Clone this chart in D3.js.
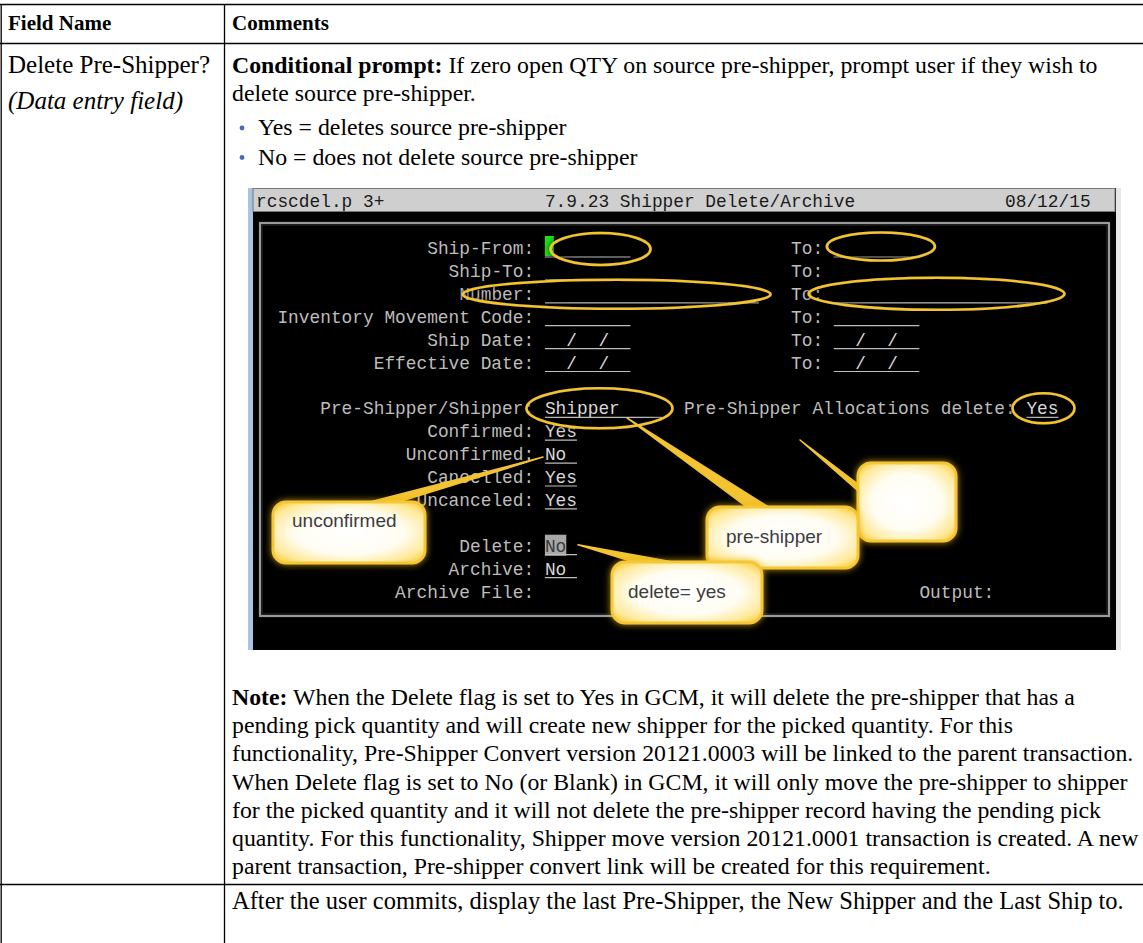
<!DOCTYPE html>
<html><head><meta charset="utf-8">
<script src="https://cdn.jsdelivr.net/npm/d3@7"></script>
<style>body{margin:0;background:#fff;} svg{display:block}</style>
</head><body><svg id="c" width="1143" height="943"></svg>
<script>
// ---------- document content ----------
const headers = ["Field Name", "Comments"];
const fieldName = "Delete Pre-Shipper?";
const fieldKind = "(Data entry field)";
const promptLabel = "Conditional prompt:";
const promptLines = [" If zero open QTY on source pre-shipper, prompt user if they wish to", "delete source pre-shipper."];
const bullets = ["Yes = deletes source pre-shipper", "No = does not delete source pre-shipper"];
const noteLabel = "Note:";
const noteLines = [
  " When the Delete flag is set to Yes in GCM, it will delete the pre-shipper that has a",
  "pending pick quantity and will create new shipper for the picked quantity. For this",
  "functionality, Pre-Shipper Convert version 20121.0003 will be linked to the parent transaction.",
  "When Delete flag is set to No (or Blank) in GCM, it will only move the pre-shipper to shipper",
  "for the picked quantity and it will not delete the pre-shipper record having the pending pick",
  "quantity. For this functionality, Shipper move version 20121.0001 transaction is created. A new",
  "parent transaction, Pre-shipper convert link will be created for this requirement."
];
const lastRowText = "After the user commits, display the last Pre-Shipper, the New Shipper and the Last Ship to.";

// ---------- terminal screen content ----------
const titleCells = [
  {col: 0, text: "rcscdel.p 3+"},
  {col: 27, text: "7.9.23 Shipper Delete/Archive"},
  {col: 70, text: "08/12/15"}
];
const termRows = [2, 3, 4, 5, 6, 7, 9, 10, 11, 12, 13, 15, 16, 17];
const termLabels = ["Ship-From:", "Ship-To:", "Number:", "Inventory Movement Code:", "Ship Date:", "Effective Date:",
  "Pre-Shipper/Shipper:", "Confirmed:", "Unconfirmed:", "Cancelled:", "Uncanceled:", "Delete:", "Archive:", "Archive File:"];
const termValues = ["", "", "", "", "  /  /  ", "  /  /  ", "Shipper", "Yes", "No", "Yes", "Yes", "No", "No", null];
const termWidths = [8, 8, 20, 8, 8, 8, 11, 3, 3, 3, 3, 3, 3, 0];
const toValues = ["", null, "", "", "  /  /  ", "  /  /  "];
const toWidths = [8, 0, 20, 8, 8, 8];
const extraCells = [
  {row: 9, col: 40, text: "Pre-Shipper Allocations delete:"},
  {row: 17, col: 62, text: "Output:"}
];
const allocValue = {row: 9, col: 72, text: "Yes", width: 3};
const calloutLabels = ["unconfirmed", "pre-shipper", "delete= yes", ""];

// ---------- drawing ----------
const svg = d3.select("#c");
const defs = svg.append("defs");
const serif = "'Liberation Serif','Times New Roman',serif";
const mono = "'Liberation Mono','Courier New',monospace";
const sans = "'Liberation Sans',Arial,sans-serif";
const FS = 23.8, HFS = 21, LFS = 25;

// table rules
const g = svg.append("g");
const line = (x1, y1, x2, y2) => g.append("line").attr("x1", x1).attr("y1", y1).attr("x2", x2).attr("y2", y2)
  .attr("stroke", "#000").attr("stroke-width", 1.3);
line(0, 4.5, 1143, 4.5);
line(0, 43.5, 1143, 43.5);
line(0, 884.5, 1143, 884.5);
line(1.2, 4, 1.2, 943);
line(224.5, 4, 224.5, 943);

const txt = (x, y, s, opts = {}) => g.append("text").attr("x", x).attr("y", y)
  .attr("font-family", opts.family || serif).attr("font-size", opts.size || FS)
  .attr("font-weight", opts.weight || "normal").attr("font-style", opts.style || "normal")
  .attr("fill", opts.fill || "#000").attr("xml:space", "preserve").text(s);

// header
txt(8, 30, headers[0], {weight: "bold", size: HFS});
txt(232, 30, headers[1], {weight: "bold", size: HFS});
// left column
txt(8, 73, fieldName, {size: LFS});
txt(8, 109, fieldKind, {style: "italic", size: LFS});
// prompt
const p1 = g.append("text").attr("x", 232).attr("y", 73).attr("font-family", serif).attr("font-size", FS).attr("xml:space", "preserve");
p1.append("tspan").attr("font-weight", "bold").text(promptLabel);
p1.append("tspan").text(promptLines[0]);
txt(232, 101, promptLines[1]);
bullets.forEach((b, i) => {
  const y = 135 + i * 29.5;
  g.append("circle").attr("cx", 242).attr("cy", y - 7).attr("r", 2.4).attr("fill", "#3f6fb5");
  txt(258, y, b);
});
// note
const nY0 = 705, nDY = 28.2;
noteLines.forEach((s, i) => {
  const t = g.append("text").attr("x", 232).attr("y", nY0 + i * nDY).attr("font-family", serif).attr("font-size", FS).attr("xml:space", "preserve");
  if (i === 0) t.append("tspan").attr("font-weight", "bold").text(noteLabel);
  t.append("tspan").text(s);
});
txt(232, 909, lastRowText, {size: 24.5});

// ---------- terminal screenshot ----------
const T = svg.append("g");
const X0 = 256, CW = 10.7;
const X = c => X0 + c * CW;
const Y = r => 254 + (r - 2) * 22.9;
const TFS = CW / 0.6;

T.append("rect").attr("x", 248).attr("y", 188).attr("width", 873).attr("height", 462).attr("fill", "#000");
T.append("rect").attr("x", 248).attr("y", 188).attr("width", 5).attr("height", 462).attr("fill", "#a9c3e3");
T.append("rect").attr("x", 1116).attr("y", 188).attr("width", 5).attr("height", 462).attr("fill", "#e6e6e6");
T.append("rect").attr("x", 253).attr("y", 188.5).attr("width", 862).attr("height", 23).attr("fill", "#cfcfcf")
  .attr("stroke", "#777").attr("stroke-width", 1);
// inner frame
T.append("rect").attr("x", 260).attr("y", 223).attr("width", 849).attr("height", 393).attr("fill", "none")
  .attr("stroke", "#9a9a9a").attr("stroke-width", 2.2);
T.append("rect").attr("x", 262).attr("y", 225).attr("width", 845).attr("height", 389).attr("fill", "none")
  .attr("stroke", "#3a3a3a").attr("stroke-width", 0.8);

const ttxt = (col, y, s, fill) => T.append("text").attr("x", X(col)).attr("y", y)
  .attr("font-family", mono).attr("font-size", TFS).attr("fill", fill).attr("xml:space", "preserve").text(s);

titleCells.forEach(d => ttxt(d.col, 207, d.text, "#1a1a1a"));

// cursor & highlight
T.append("rect").attr("x", X(27)).attr("y", Y(2) - 18).attr("width", 9).attr("height", 20).attr("fill", "#16e016");
T.append("rect").attr("x", X(27)).attr("y", Y(15) - 17).attr("width", CW * 2).attr("height", 21).attr("fill", "#a8a8a8");

const labelColor = "#bdbdbd";
const fieldCell = (row, col, val, w, fill) => {
  if (val) ttxt(col, Y(row), val, fill);
  if (w > 0) T.append("line").attr("x1", X(col)).attr("x2", X(col + w)).attr("y1", Y(row) + 3).attr("y2", Y(row) + 3)
    .attr("stroke", "#bdbdbd").attr("stroke-width", 1.2);
};
termRows.forEach((r, i) => {
  const lab = termLabels[i];
  ttxt(26 - lab.length, Y(r), lab, labelColor);
  const isDel = lab === "Delete:";
  fieldCell(r, 27, termValues[i], termWidths[i], isDel ? "#3a3a3a" : "#d8d8d8");
  if (i < toValues.length) {
    ttxt(50, Y(r), "To:", labelColor);
    fieldCell(r, 54, toValues[i], toWidths[i], "#d8d8d8");
  }
});
extraCells.forEach(d => ttxt(d.col, Y(d.row), d.text, labelColor));
fieldCell(allocValue.row, allocValue.col, allocValue.text, allocValue.width, "#d8d8d8");

// ---------- annotations ----------
const glow = defs.append("filter").attr("id", "glow").attr("x", "-30%").attr("y", "-30%").attr("width", "160%").attr("height", "160%");
glow.append("feGaussianBlur").attr("in", "SourceAlpha").attr("stdDeviation", 2.5).attr("result", "b");
glow.append("feFlood").attr("flood-color", "#000").attr("flood-opacity", 0.9);
glow.append("feComposite").attr("in2", "b").attr("operator", "in").attr("result", "s");
const gm = glow.append("feMerge");
gm.append("feMergeNode").attr("in", "s");
gm.append("feMergeNode").attr("in", "SourceGraphic");

const yglow = defs.append("filter").attr("id", "yglow").attr("x", "-30%").attr("y", "-30%").attr("width", "160%").attr("height", "160%");
yglow.append("feGaussianBlur").attr("in", "SourceAlpha").attr("stdDeviation", 3.5).attr("result", "b");
yglow.append("feFlood").attr("flood-color", "#e8b400").attr("flood-opacity", 0.8);
yglow.append("feComposite").attr("in2", "b").attr("operator", "in").attr("result", "s");
const ym = yglow.append("feMerge");
ym.append("feMergeNode").attr("in", "s");
ym.append("feMergeNode").attr("in", "SourceGraphic");

const grad = defs.append("radialGradient").attr("id", "cg").attr("cx", "50%").attr("cy", "50%").attr("r", "65%");
grad.append("stop").attr("offset", "0%").attr("stop-color", "#ffffff");
grad.append("stop").attr("offset", "55%").attr("stop-color", "#fffdf2");
grad.append("stop").attr("offset", "85%").attr("stop-color", "#ffe99a");
grad.append("stop").attr("offset", "100%").attr("stop-color", "#fbd24a");

const A = svg.append("g");
const yellow = "#f3c332";
const ellipses = [
  [X(32.2), Y(2) - 5, 50, 16],
  [X(58.4), Y(2) - 7.5, 54, 14],
  [X(33.7), Y(4) - 5.5, 154, 14.5],
  [X(63.6), Y(4) - 6, 128, 16],
  [X(32.1), Y(9) - 6, 73, 20],
  [X(73.6), Y(9) - 6, 31, 15]
];
ellipses.forEach(e => A.append("ellipse").attr("cx", e[0]).attr("cy", e[1]).attr("rx", e[2]).attr("ry", e[3])
  .attr("fill", "none").attr("stroke", yellow).attr("stroke-width", 2.6).attr("filter", "url(#glow)"));

// connectors
const wedges = [
  [[543, Y(11) - 3], [362, 504], [392, 504]],
  [[578, Y(15) - 7], [640, 564], [684, 564]],
  [[627, 418], [748, 508], [770, 508]],
  [[800, 440], [857, 490], [858, 484]]
];
wedges.forEach(w => A.append("polygon").attr("points", w.map(p => p.join(",")).join(" "))
  .attr("fill", yellow).attr("stroke", yellow).attr("stroke-width", 1.5).attr("stroke-linejoin", "round"));

const boxes = [
  [273, 502, 152, 61],
  [707, 507, 151, 61],
  [612, 562, 150, 61],
  [858, 463, 98, 78]
];
[3, 1, 0, 2].forEach(i => {
  const b = boxes[i];
  A.append("rect").attr("x", b[0]).attr("y", b[1]).attr("width", b[2]).attr("height", b[3]).attr("rx", 13)
    .attr("fill", "url(#cg)").attr("stroke", "#f6c736").attr("stroke-width", 3).attr("filter", "url(#yglow)");
  if (calloutLabels[i]) A.append("text").attr("x", b[0] + (i === 2 ? 16 : 19)).attr("y", b[1] + (i === 0 ? 25 : 36))
    .attr("font-family", sans).attr("font-size", 19).attr("fill", "#3c3c3c").text(calloutLabels[i]);
});
</script></body></html>
